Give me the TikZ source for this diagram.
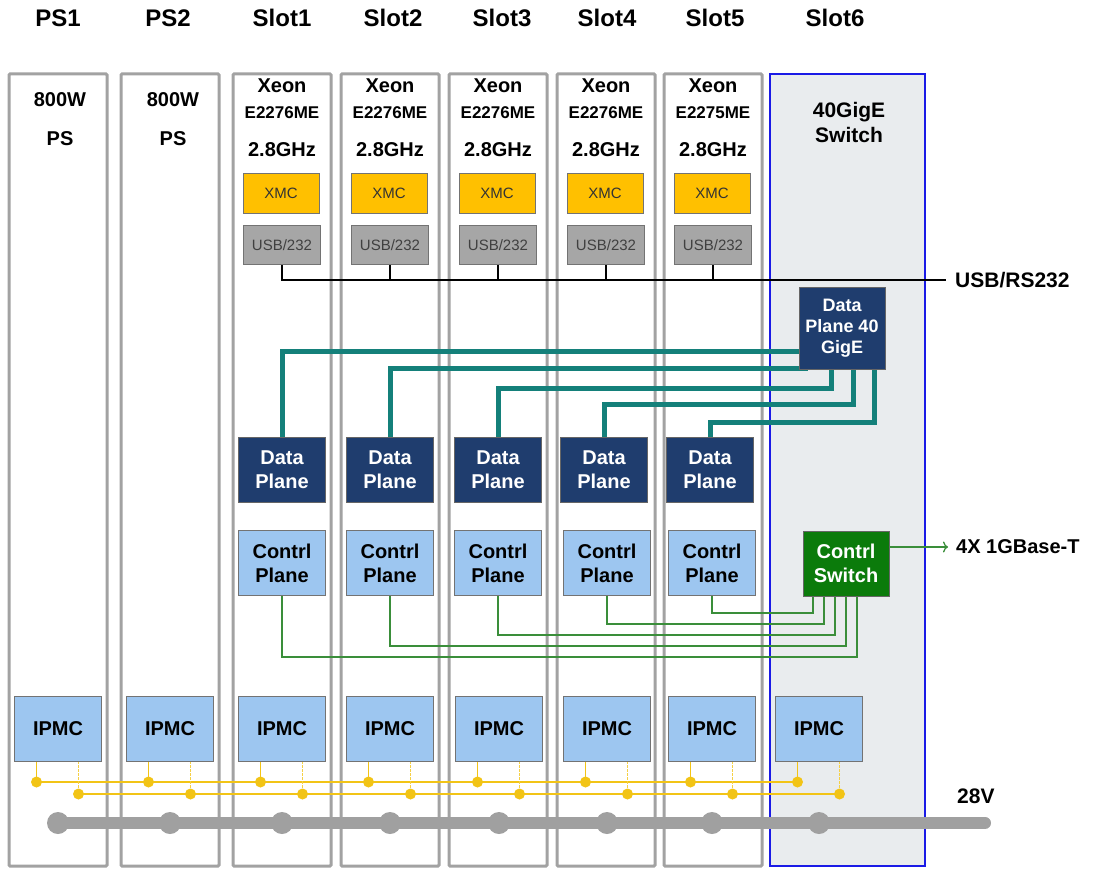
\documentclass[tikz,border=0pt]{standalone}
\usepackage{fontspec}
\setmainfont{Liberation Sans}
\usetikzlibrary{arrows.meta}
\definecolor{colgray}{HTML}{A2A2A2}
\definecolor{xmcyellow}{HTML}{FFC000}
\definecolor{usbgray}{HTML}{A6A6A6}
\definecolor{dpblue}{HTML}{1F3D6E}
\definecolor{cpblue}{HTML}{9DC6F0}
\definecolor{swgreen}{HTML}{0B7B0B}
\definecolor{glinec}{HTML}{3A8E3A}
\definecolor{tealc}{HTML}{14807A}
\definecolor{yellowc}{HTML}{F2C416}
\definecolor{busgray}{HTML}{A0A0A0}
\definecolor{slotsixfill}{HTML}{E9ECEE}
\definecolor{slotsixblue}{HTML}{1A1AE6}
\pgfdeclarelayer{cols}
\pgfdeclarelayer{wires}
\pgfsetlayers{cols,wires,main}
\begin{document}
\begin{tikzpicture}[x=1pt,y=-1pt,
  hdr/.style={font=\bfseries\fontsize{24}{28}\selectfont, inner sep=0},
  cpu/.style={font=\bfseries\fontsize{20}{24}\selectfont, inner sep=0},
  model/.style={font=\bfseries\fontsize{17}{20}\selectfont, inner sep=0},
  lbl/.style={font=\bfseries\fontsize{21}{25}\selectfont, inner sep=0, anchor=west},
  colbox/.style={draw=colgray, line width=3pt, fill=white, rounded corners=1pt},
  xmcbox/.style={draw=black!55, fill=xmcyellow, minimum width=76, minimum height=40, inner sep=0, font=\fontsize{15}{18}\selectfont, text=black!80},
  usbbox/.style={draw=black!55, fill=usbgray, minimum width=77, minimum height=39, inner sep=0, font=\fontsize{15}{18}\selectfont, text=black!75},
  dpbox/.style={draw=black!60, fill=dpblue, text=white, minimum width=87, minimum height=65, align=center, inner sep=0, font=\bfseries\fontsize{20}{24}\selectfont},
  cpbox/.style={draw=black!55, fill=cpblue, text=black, minimum width=87, minimum height=65, align=center, inner sep=0, font=\bfseries\fontsize{20}{24}\selectfont},
  swbox/.style={draw=black!60, fill=swgreen, text=white, minimum width=86, minimum height=65, align=center, inner sep=0, font=\bfseries\fontsize{20}{24}\selectfont},
  tealline/.style={draw=tealc, line width=5pt},
  gline/.style={draw=glinec, line width=1.3pt},
  usbline/.style={draw=black, line width=1.3pt},
  yline/.style={draw=yellowc, line width=1.6pt},
  ydash/.style={draw=yellowc!80, line width=1.5pt, dash pattern=on 2.5pt off 1.5pt},
  ydot/.style={fill=yellowc},
  busline/.style={draw=busgray, line width=12pt, line cap=round},
  busdot/.style={fill=busgray}
]
\useasboundingbox (0,0) rectangle (1094,869);

% ---------- columns ----------
\begin{pgfonlayer}{cols}
\draw[colbox] (9,74) rectangle (107,866);
\draw[colbox] (121,74) rectangle (219,866);
\draw[colbox] (233,74) rectangle (331,866);
\draw[colbox] (341,74) rectangle (439,866);
\draw[colbox] (449,74) rectangle (547,866);
\draw[colbox] (557,74) rectangle (655,866);
\draw[colbox] (664,74) rectangle (762,866);
\draw[draw=slotsixblue, line width=2.5pt, fill=slotsixfill] (770,74) rectangle (925,866);
\end{pgfonlayer}

% ---------- headers ----------
\node[hdr] (hps1) at (58,18) {PS1};
\node[hdr] (hps2) at (168,18) {PS2};
\node[hdr] (hs1) at (282,18) {Slot1};
\node[hdr] (hs2) at (393,18) {Slot2};
\node[hdr] (hs3) at (502,18) {Slot3};
\node[hdr] (hs4) at (607,18) {Slot4};
\node[hdr] (hs5) at (715,18) {Slot5};
\node[hdr] (hs6) at (835,18) {Slot6};

% ---------- power supplies ----------
\node[cpu] (w1) at (60,100) {800W};
\node[cpu] (p1) at (60,139) {PS};
\node[cpu] (w2) at (173,100) {800W};
\node[cpu] (p2) at (173,139) {PS};

% ---------- CPU slots ----------
\foreach \i/\cx/\m in {1/282/E2276ME,2/390/E2276ME,3/498/E2276ME,4/606/E2276ME,5/713/E2275ME}{
  \node[cpu] (xeon\i) at (\cx,86) {Xeon};
  \node[model] (mod\i) at (\cx,113) {\m};
  \node[cpu] (ghz\i) at (\cx,150) {2.8GHz};
  \node[xmcbox] (xmc\i) at (\cx-1,193) {XMC};
  \node[usbbox] (usb\i) at (\cx,245) {USB/232};
}

% ---------- slot 6 ----------
\node[cpu, align=center, font=\bfseries\fontsize{21}{25}\selectfont] (sw40) at (849,122) {40GigE\\Switch};
\node[dpbox, minimum width=86, minimum height=82, font=\bfseries\fontsize{18}{21}\selectfont] (dp40) at (842,328) {Data\\Plane 40\\GigE};
\node[swbox] (csw) at (846,563.5) {Contrl\\Switch};

% ---------- data / control planes ----------
\foreach \i/\cx in {1/282,2/390,3/498,4/604,5/710}{
  \node[dpbox] (dp\i) at (\cx,469.5) {Data\\Plane};
}
\foreach \i/\cx in {1/282,2/390,3/498,4/607,5/712}{
  \node[cpbox] (cp\i) at (\cx,563) {Contrl\\Plane};
}

% ---------- IPMC ----------
\foreach \i/\cx in {1/58,2/170,3/282,4/390,5/499,6/607,7/712,8/819}{
  \node[cpbox] (ipmc\i) at (\cx,728.5) {IPMC};
}

% ---------- labels on the right ----------
\node[lbl] (usblbl) at (955,280) {USB/RS232};
\node[lbl, font=\bfseries\fontsize{20}{24}\selectfont] (gblbl) at (956,547) {4X 1GBase-T};
\node[lbl] (vlbl) at (957,796) {28V};

% ---------- wires ----------
\begin{pgfonlayer}{wires}
% USB/RS232 line
\coordinate (usbend) at (946,280);
\draw[usbline] (usb1.south) |- (usbend);
\foreach \i in {2,...,5}{
  \draw[usbline] (usb\i.south) -- (usb\i.south |- usbend);
}
% data plane links
\coordinate (t1) at (799,351);
\coordinate (t2) at (808,368);
\coordinate (t3) at (831,388);
\coordinate (t4) at (853,404);
\coordinate (t5) at (874,422);
\draw[tealline] (dp1.north) |- (t1);
\draw[tealline] (dp2.north) |- (t2);
\draw[tealline] (dp3.north) |- (t3) -- (t3 |- dp40.south);
\draw[tealline] (dp4.north) |- (t4) -- (t4 |- dp40.south);
\draw[tealline] (dp5.north) |- (t5) -- (t5 |- dp40.south);
% control plane links
\coordinate (g5) at (813,613);
\coordinate (g4) at (824,624);
\coordinate (g3) at (835,635);
\coordinate (g2) at (846,646);
\coordinate (g1) at (857,657);
\foreach \i in {1,...,5}{
  \draw[gline] (cp\i.south) |- (g\i) -- (g\i |- csw.south);
}
\coordinate (arrend) at (948,547);
\draw[gline, -{To[length=5pt,width=11pt]}] (csw.east |- arrend) -- (arrend);
% IPMC management bus
\foreach \i/\ux/\lx in {1/36.5/78.5,2/148.5/190.5,3/260.5/302.5,4/368.5/410.5,5/477.5/519.5,6/585.5/627.5,7/690.5/732.5,8/797.5/839.5}{
  \coordinate (u\i) at (\ux,782);
  \coordinate (l\i) at (\lx,794);
}
\draw[yline] (u1) -- (u8);
\draw[yline] (l1) -- (l8);
\foreach \i in {1,...,8}{
  \draw[yline] (ipmc\i.south -| u\i) -- (u\i);
  \draw[ydash] (ipmc\i.south -| l\i) -- (l\i);
  \fill[ydot] (u\i) circle (5.5pt);
  \fill[ydot] (l\i) circle (5.5pt);
}
% 28V power bus
\coordinate (busend) at (985,823);
\draw[busline] (ipmc1.south |- busend) -- (busend);
\foreach \i in {1,...,8}{
  \fill[busdot] (ipmc\i.south |- busend) circle (11pt);
}
\end{pgfonlayer}
\end{tikzpicture}
\end{document}
